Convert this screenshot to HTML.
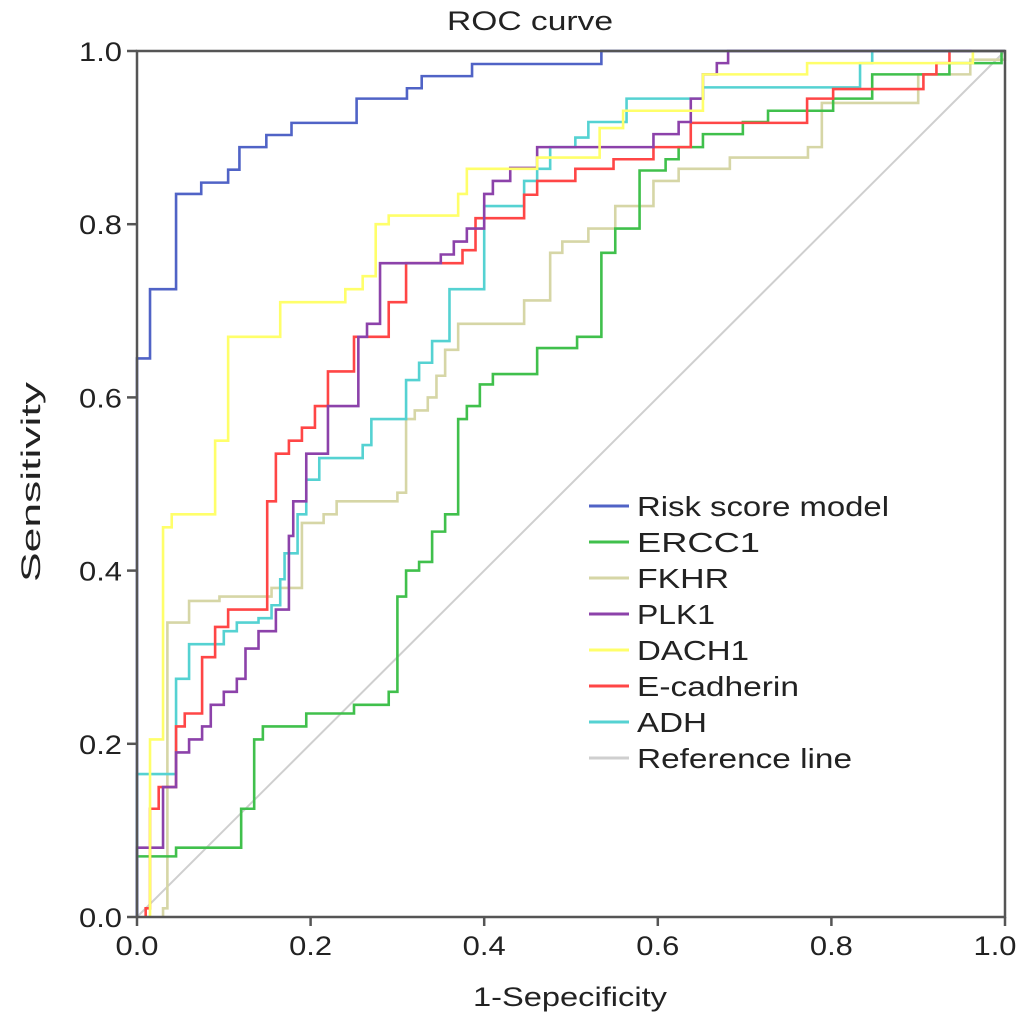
<!DOCTYPE html>
<html><head><meta charset="utf-8"><style>
body{margin:0;background:#fff;}
svg text{font-family:"Liberation Sans",sans-serif;fill:#222;}
</style></head><body>
<svg id="chart" width="1034" height="1029" viewBox="0 0 1034 1029" xmlns="http://www.w3.org/2000/svg">
<rect width="1034" height="1029" fill="#fff"/>
<text x="530" y="30" font-size="27" text-anchor="middle" textLength="166" lengthAdjust="spacingAndGlyphs">ROC curve</text>
<g id="curves"></g>
<g id="axes"></g>
<text x="570" y="1006" font-size="27" text-anchor="middle" textLength="194" lengthAdjust="spacingAndGlyphs">1-Sepecificity</text>
<text transform="translate(40,482) rotate(-90)" font-size="27" text-anchor="middle" textLength="200" lengthAdjust="spacingAndGlyphs">Sensitivity</text>
<g id="legend"></g>
</svg>
<script>
const seriesNames=["Risk score model","ERCC1","FKHR","PLK1","DACH1","E-cadherin","ADH","Reference line"];
const seriesColors=["#5063c6","#40c04c","#d6d6a6","#8c42aa","#ffff6a","#ff4646","#55d2d2","#cfcfcf"];
const ticks=[0,0.2,0.4,0.6,0.8,1.0];
const tickLabels=["0.0","0.2","0.4","0.6","0.8","1.0"];
// step points: horizontal to x, then vertical to y
const riskX=[0,0.015,0.045,0.074,0.105,0.118,0.149,0.178,0.253,0.311,0.328,0.386,0.535,1];
const riskY=[0.645,0.725,0.835,0.848,0.863,0.889,0.903,0.917,0.945,0.957,0.971,0.985,1,1];
const erccX=[0,0.045,0.12,0.135,0.145,0.195,0.25,0.29,0.3,0.31,0.325,0.34,0.355,0.37,0.38,0.395,0.41,0.461,0.507,0.535,0.551,0.579,0.609,0.624,0.652,0.698,0.727,0.802,0.847,0.936,0.996,1];
const erccY=[0.07,0.08,0.125,0.205,0.22,0.235,0.245,0.26,0.37,0.4,0.41,0.445,0.465,0.575,0.59,0.615,0.627,0.657,0.67,0.767,0.795,0.862,0.875,0.889,0.904,0.918,0.931,0.945,0.973,0.986,1,1];
const fkhrX=[0.03,0.035,0.06,0.095,0.155,0.19,0.215,0.23,0.3,0.31,0.32,0.335,0.345,0.355,0.37,0.446,0.476,0.49,0.52,0.551,0.595,0.624,0.683,0.773,0.789,0.9,0.96,1];
const fkhrY=[0.01,0.34,0.365,0.37,0.38,0.455,0.465,0.48,0.49,0.575,0.585,0.6,0.625,0.655,0.685,0.712,0.767,0.78,0.795,0.821,0.85,0.864,0.877,0.889,0.94,0.973,0.99,1];
const plkX=[0,0.03,0.045,0.06,0.075,0.085,0.1,0.115,0.125,0.14,0.16,0.175,0.18,0.195,0.22,0.255,0.265,0.28,0.35,0.365,0.38,0.4,0.41,0.43,0.461,0.595,0.624,0.638,0.652,0.668,0.681,1];
const plkY=[0.08,0.15,0.19,0.205,0.22,0.245,0.26,0.275,0.31,0.33,0.355,0.44,0.48,0.535,0.59,0.67,0.685,0.755,0.765,0.78,0.795,0.835,0.85,0.865,0.889,0.904,0.918,0.945,0.973,0.986,1,1];
const dachX=[0.015,0.03,0.04,0.09,0.105,0.165,0.24,0.26,0.275,0.29,0.37,0.38,0.461,0.533,0.56,0.652,0.772,0.963,1];
const dachY=[0.205,0.45,0.465,0.55,0.67,0.71,0.725,0.74,0.8,0.81,0.835,0.864,0.877,0.911,0.931,0.973,0.986,1,1];
const ecadX=[0.01,0.015,0.025,0.045,0.055,0.075,0.09,0.105,0.15,0.16,0.175,0.19,0.205,0.22,0.25,0.29,0.31,0.375,0.39,0.446,0.461,0.505,0.549,0.595,0.638,0.772,0.802,0.906,0.921,0.936,1];
const ecadY=[0.01,0.125,0.15,0.22,0.235,0.3,0.335,0.355,0.48,0.535,0.55,0.565,0.59,0.63,0.67,0.71,0.755,0.77,0.807,0.834,0.85,0.864,0.875,0.889,0.917,0.945,0.956,0.973,0.986,1,1];
const adhX=[0,0.045,0.06,0.1,0.115,0.14,0.155,0.165,0.17,0.185,0.195,0.21,0.26,0.27,0.31,0.325,0.34,0.36,0.4,0.446,0.461,0.476,0.505,0.52,0.564,0.652,0.833,0.847,1];
const adhY=[0.165,0.275,0.315,0.33,0.34,0.345,0.36,0.39,0.42,0.465,0.505,0.53,0.545,0.575,0.62,0.64,0.665,0.725,0.821,0.85,0.864,0.889,0.9,0.918,0.945,0.958,0.986,1,1];
const refX=[0,1];
const refY=[0,1];

const X0=137,X1=1005,Y0=917,Y1=51;
const sx=v=>X0+v*(X1-X0);
const sy=v=>Y0-v*(Y0-Y1);
const NS="http://www.w3.org/2000/svg";
const curves=document.getElementById('curves');
function stepPath(xs,ys,startY){
  let d="M"+sx(xs[0])+","+sy(startY);
  for(let i=0;i<xs.length;i++){d+=" H"+sx(xs[i])+" V"+sy(ys[i]);}
  return d;
}
const data=[[riskX,riskY],[erccX,erccY],[fkhrX,fkhrY],[plkX,plkY],[dachX,dachY],[ecadX,ecadY],[adhX,adhY]];
const order=[2,1,6,5,3,4,0];
const ref=document.createElementNS(NS,'line');


ref.setAttribute('x1',sx(refX[0]));ref.setAttribute('y1',sy(refY[0]));
ref.setAttribute('x2',sx(refX[1]));ref.setAttribute('y2',sy(refY[1]));
ref.setAttribute('stroke',seriesColors[7]);ref.setAttribute('stroke-width','2');
curves.appendChild(ref);
order.forEach(i=>{
  const p=document.createElementNS(NS,'path');
  
  
  p.setAttribute('d',stepPath(data[i][0],data[i][1],0));
  p.setAttribute('fill','none');p.setAttribute('stroke',seriesColors[i]);p.setAttribute('stroke-width','2.6');
  curves.appendChild(p);
});
const axes=document.getElementById('axes');
const frame=document.createElementNS(NS,'rect');


frame.setAttribute('x',X0);frame.setAttribute('y',Y1);frame.setAttribute('width',X1-X0);frame.setAttribute('height',Y0-Y1);
frame.setAttribute('fill','none');frame.setAttribute('stroke','#555');frame.setAttribute('stroke-width','2.5');
axes.appendChild(frame);
ticks.forEach((t,i)=>{
  const a=document.createElementNS(NS,'line');
  
  
  a.setAttribute('x1',sx(t));a.setAttribute('x2',sx(t));a.setAttribute('y1',Y0);a.setAttribute('y2',Y0+9);
  a.setAttribute('stroke','#555');a.setAttribute('stroke-width','2.5');axes.appendChild(a);
  const tl=document.createElementNS(NS,'text');
  
  
  tl.setAttribute('x',sx(t)-(i==5?10:0));tl.setAttribute('y',955);tl.setAttribute('font-size','27');tl.setAttribute('text-anchor','middle');
  tl.setAttribute('textLength','43');tl.setAttribute('lengthAdjust','spacingAndGlyphs');
  tl.textContent=tickLabels[i];axes.appendChild(tl);
  const b=document.createElementNS(NS,'line');
  
  
  b.setAttribute('x1',X0-10);b.setAttribute('x2',X0);b.setAttribute('y1',sy(t));b.setAttribute('y2',sy(t));
  b.setAttribute('stroke','#555');b.setAttribute('stroke-width','2.5');axes.appendChild(b);
  const yl=document.createElementNS(NS,'text');
  
  
  yl.setAttribute('x',122);yl.setAttribute('y',sy(t)+10);yl.setAttribute('font-size','27');yl.setAttribute('text-anchor','end');
  yl.setAttribute('textLength','43');yl.setAttribute('lengthAdjust','spacingAndGlyphs');
  yl.textContent=tickLabels[i];axes.appendChild(yl);
});
const lg=document.getElementById('legend');
const legendLen=[252,123,92,78,112,162,70,215];
seriesNames.forEach((n,i)=>{
  const y=506+i*36;
  const l=document.createElementNS(NS,'line');
  
  
  l.setAttribute('x1',589);l.setAttribute('x2',629);l.setAttribute('y1',y);l.setAttribute('y2',y);
  l.setAttribute('stroke',seriesColors[i]);l.setAttribute('stroke-width','3');lg.appendChild(l);
  const t=document.createElementNS(NS,'text');
  
  
  t.setAttribute('x',637);t.setAttribute('y',y+10);t.setAttribute('font-size','28');
  t.setAttribute('textLength',legendLen[i]);t.setAttribute('lengthAdjust','spacingAndGlyphs');
  t.textContent=n;lg.appendChild(t);
});
</script>
</body></html>
